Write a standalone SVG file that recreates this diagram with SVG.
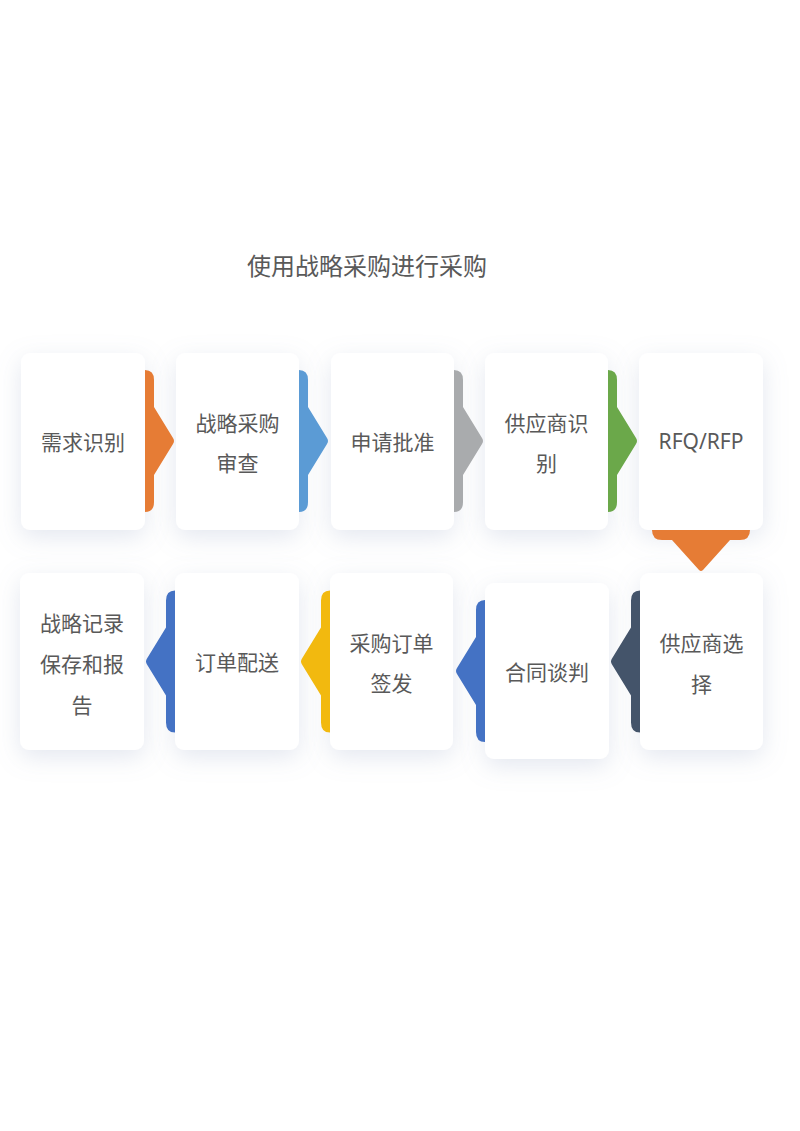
<svg xmlns="http://www.w3.org/2000/svg" width="800" height="1131" viewBox="0 0 800 1131">
<defs>
<style>
.card{fill:#ffffff;filter:url(#sh);}
.t{font-family:"Noto Sans","Noto Sans CJK SC",sans-serif;font-size:21px;fill:#595959;text-anchor:middle;}
.title{font-family:"Noto Sans","Noto Sans CJK SC",sans-serif;font-size:24px;fill:#595959;text-anchor:middle;}
</style>
<filter id="sh" x="-40%" y="-40%" width="180%" height="180%">
<feDropShadow dx="0" dy="7" stdDeviation="12" flood-color="#8a9bbd" flood-opacity="0.24"/>
</filter>
<path id="tabR" d="M0,-71 Q9,-71 9,-61 V-34 L28,-3 Q30,0 28,3 L9,34 V61 Q9,71 0,71 Z"/>
<path id="tabD" d="M-49,0 Q-49,10 -39,10 H-29 L-2,40 Q0,42 2,40 L29,10 H39 Q49,10 49,0 Z"/>
</defs>
<rect width="800" height="1131" fill="#ffffff"/>
<text class="title" x="367" y="275">使用战略采购进行采购</text>

<g id="n1"><rect class="card" x="21" y="353" width="124" height="177" rx="9"/><text class="t" x="83" y="450">需求识别</text></g>
<g id="n2"><rect class="card" x="176" y="353" width="123" height="177" rx="9"/><text class="t" x="237.5" y="431">战略采购</text><text class="t" x="237.5" y="471">审查</text></g>
<g id="n3"><rect class="card" x="331" y="353" width="123" height="177" rx="9"/><text class="t" x="392.5" y="450">申请批准</text></g>
<g id="n4"><rect class="card" x="485" y="353" width="123" height="177" rx="9"/><text class="t" x="546.5" y="431">供应商识</text><text class="t" x="546.5" y="471">别</text></g>
<g id="n5"><rect class="card" x="639" y="353" width="124" height="177" rx="9"/><text class="t" x="701" y="449">RFQ/RFP</text></g>
<g id="n6"><rect class="card" x="20" y="573" width="124" height="177" rx="9"/><text class="t" x="82" y="631">战略记录</text><text class="t" x="82" y="672">保存和报</text><text class="t" x="82" y="713">告</text></g>
<g id="n7"><rect class="card" x="175" y="573" width="124" height="177" rx="9"/><text class="t" x="237" y="670">订单配送</text></g>
<g id="n8"><rect class="card" x="330" y="573" width="123" height="177" rx="9"/><text class="t" x="391.5" y="651">采购订单</text><text class="t" x="391.5" y="691">签发</text></g>
<g id="n9"><rect class="card" x="485" y="583" width="124" height="176" rx="9"/><text class="t" x="547" y="680">合同谈判</text></g>
<g id="n10"><rect class="card" x="640" y="573" width="123" height="177" rx="9"/><text class="t" x="701.5" y="651">供应商选</text><text class="t" x="701.5" y="692">择</text></g>

<g id="connectors">
<use href="#tabR" transform="translate(145,441)" fill="#E67C35"/>
<use href="#tabR" transform="translate(299,441)" fill="#5B9BD5"/>
<use href="#tabR" transform="translate(454,441)" fill="#A9ABAD"/>
<use href="#tabR" transform="translate(608,441)" fill="#6BA84A"/>
<use href="#tabD" transform="translate(701,530)" fill="#E67C35"/>
<use href="#tabR" transform="translate(640,661.5) scale(-1,1)" fill="#44546A"/>
<use href="#tabR" transform="translate(485,671) scale(-1,1)" fill="#4472C4"/>
<use href="#tabR" transform="translate(330,661.5) scale(-1,1)" fill="#F2B90F"/>
<use href="#tabR" transform="translate(175,661.5) scale(-1,1)" fill="#4472C4"/>
</g>
</svg>
